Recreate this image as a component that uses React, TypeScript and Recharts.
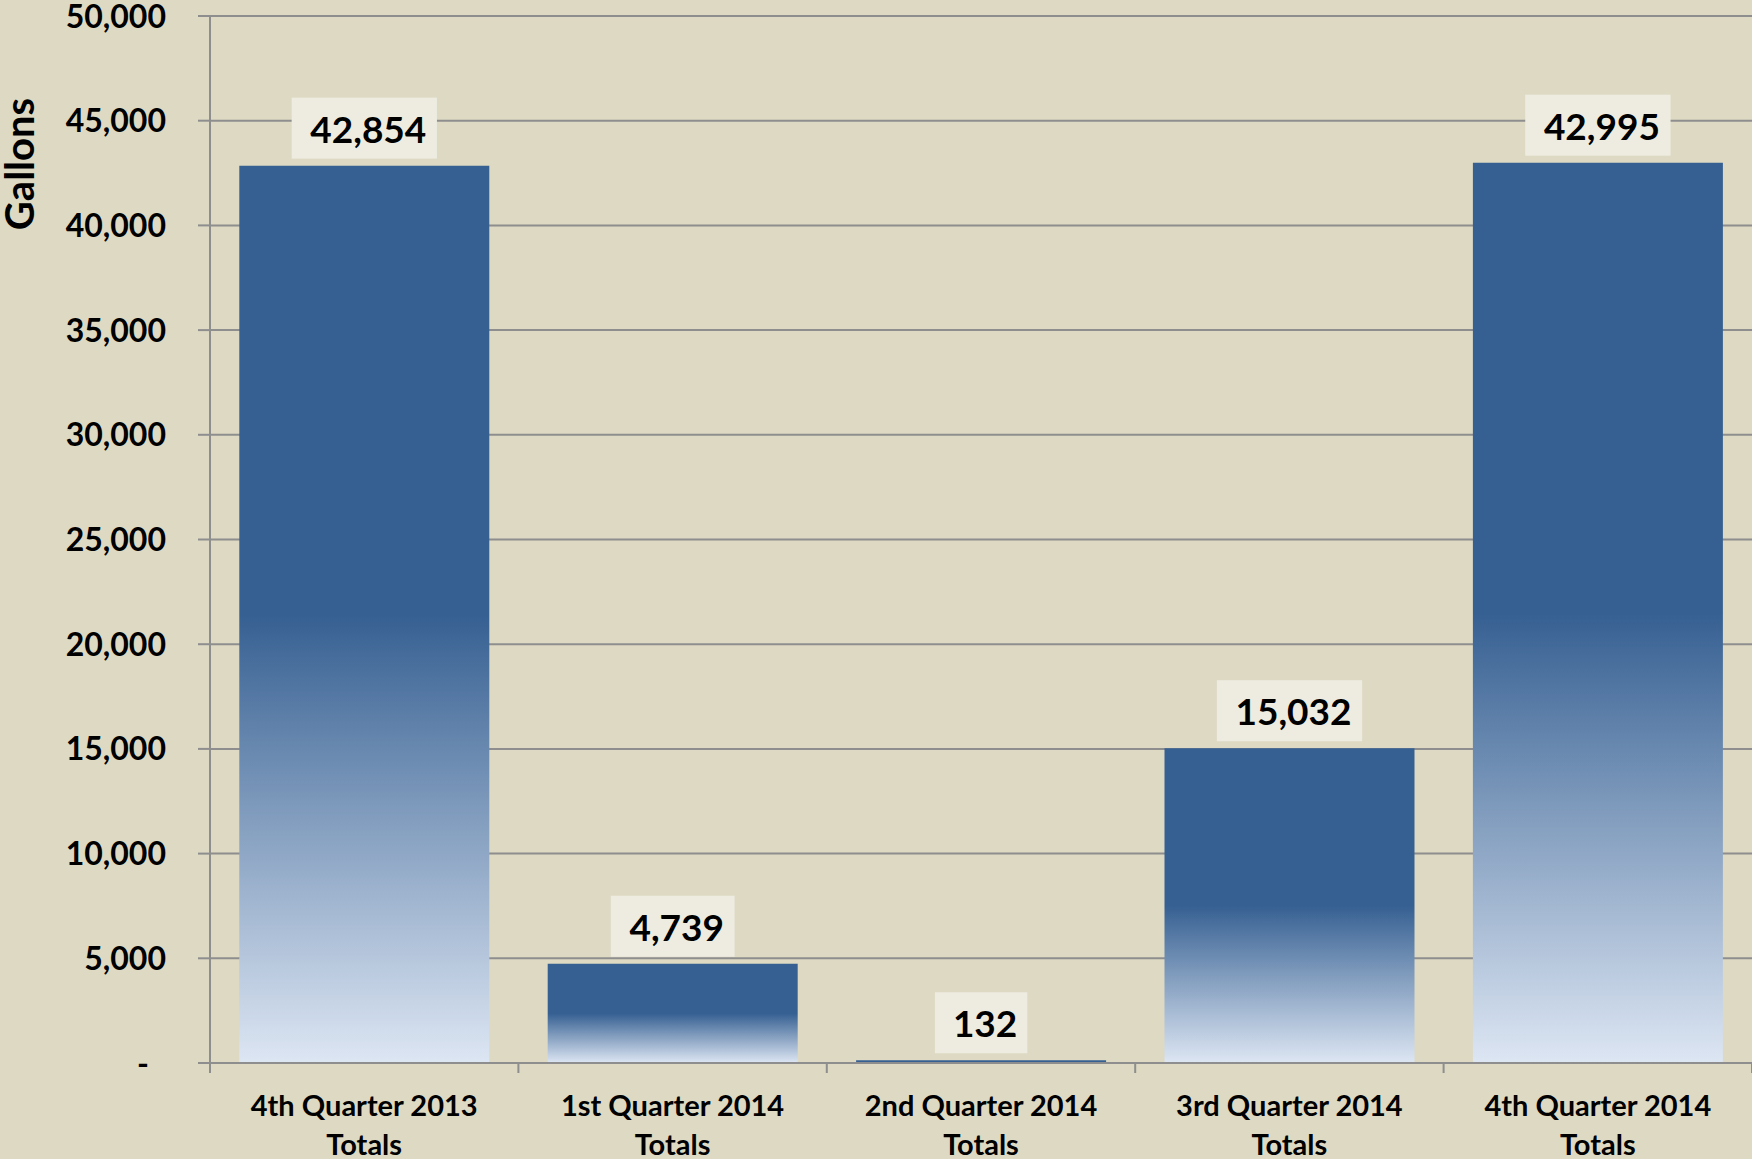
import React from 'react';
import {
  BarChart, Bar, XAxis, YAxis, CartesianGrid, LabelList,
} from 'recharts';

// categories and values
const quarters = [
  '4th Quarter 2013 Totals',
  '1st Quarter 2014 Totals',
  '2nd Quarter 2014 Totals',
  '3rd Quarter 2014 Totals',
  '4th Quarter 2014 Totals',
];
const gallons = [42854, 4739, 132, 15032, 42995];
const yTicks = [0, 5000, 10000, 15000, 20000, 25000, 30000, 35000, 40000, 45000, 50000];

const data = quarters.map((q, i) => ({ quarter: q, gallons: gallons[i] }));

const FONT = 'Lato, "Open Sans", sans-serif';
const GRID = '#8e8e8e';

const fmt = (v: number) => v.toLocaleString('en-US');

const YTick = (props: any) => {
  const { x, y, payload } = props;
  const isZero = payload.value === 0;
  return (
    <text
      x={isZero ? x - 17 : x}
      y={y}
      dy="0.36em"
      textAnchor="end"
      fontFamily={FONT}
      fontWeight={700}
      fontSize={32}
      fill="#000"
    >
      {isZero ? '-' : fmt(payload.value)}
    </text>
  );
};

const XTick = (props: any) => {
  const { x, y, payload, width, visibleTicksCount, index } = props;
  const half = width / visibleTicksCount / 2;
  const words = String(payload.value).split(' ');
  const line2 = words.pop();
  const line1 = words.join(' ');
  return (
    <g>
      <line x1={x - half} x2={x - half} y1={y - 8} y2={y + 2} stroke={GRID} strokeWidth={2} />
      {index === visibleTicksCount - 1 && (
        <line x1={x + half} x2={x + half} y1={y - 8} y2={y + 2} stroke={GRID} strokeWidth={2} />
      )}
      <text textAnchor="middle" fontFamily={FONT} fontWeight={700} fontSize={29} fill="#000">
        <tspan x={x} y={y + 45}>{line1}</tspan>
        <tspan x={x} y={y + 84}>{line2}</tspan>
      </text>
    </g>
  );
};

const ValueLabel = (props: any) => {
  const { x, y, width, value } = props;
  const s = fmt(Number(value));
  const fs = 37;
  let tw = 0;
  for (const ch of s) tw += ch === ',' ? 0.27 * fs : 0.58 * fs;
  const boxW = tw + 28;
  const cx = x + width / 2;
  return (
    <g>
      <rect x={cx - boxW / 2} y={y - 68} width={boxW} height={61} fill="#eeece1" />
      <text
        x={cx + 4}
        y={y - 23}
        textAnchor="middle"
        fontFamily={FONT}
        fontWeight={700}
        fontSize={fs}
        fill="#000"
      >
        {s}
      </text>
    </g>
  );
};

const App = () => {
  return (
    <div style={{ width: 1752, height: 1159, background: '#ddd9c3' }}>
      <style>{'body{margin:0}'}</style>
      <BarChart
        width={1752}
        height={1159}
        data={data}
        margin={{ top: 16, right: 0, left: 0, bottom: 0 }}
        barCategoryGap="9.5%"
      >
        <defs>
          <linearGradient id="barFill" x1="0" y1="0" x2="0" y2="1">
            <stop offset="0" stopColor="#366092" />
            <stop offset="0.5" stopColor="#366092" />
            <stop offset="1" stopColor="#dde6f3" />
          </linearGradient>
        </defs>
        <CartesianGrid vertical={false} stroke={GRID} strokeWidth={2} />
        <XAxis
          dataKey="quarter"
          height={96}
          interval={0}
          axisLine={{ stroke: GRID, strokeWidth: 2 }}
          tickLine={false}
          tick={<XTick />}
        />
        <YAxis
          width={210}
          domain={[0, 50000]}
          ticks={yTicks}
          interval={0}
          axisLine={{ stroke: GRID, strokeWidth: 2 }}
          tickLine={{ stroke: GRID, strokeWidth: 2 }}
          tickSize={12}
          tickMargin={32}
          tick={<YTick />}
          label={{
            value: 'Gallons',
            content: () => (
              <text
                transform="translate(19,164) rotate(-90)"
                textAnchor="middle"
                dominantBaseline="central"
                fontFamily={FONT}
                fontWeight={700}
                fontSize={40}
                fill="#000"
              >
                Gallons
              </text>
            ),
          }}
        />
        <Bar dataKey="gallons" fill="url(#barFill)" isAnimationActive={false}>
          <LabelList dataKey="gallons" content={<ValueLabel />} />
        </Bar>
      </BarChart>
    </div>
  );
};

export default App;
